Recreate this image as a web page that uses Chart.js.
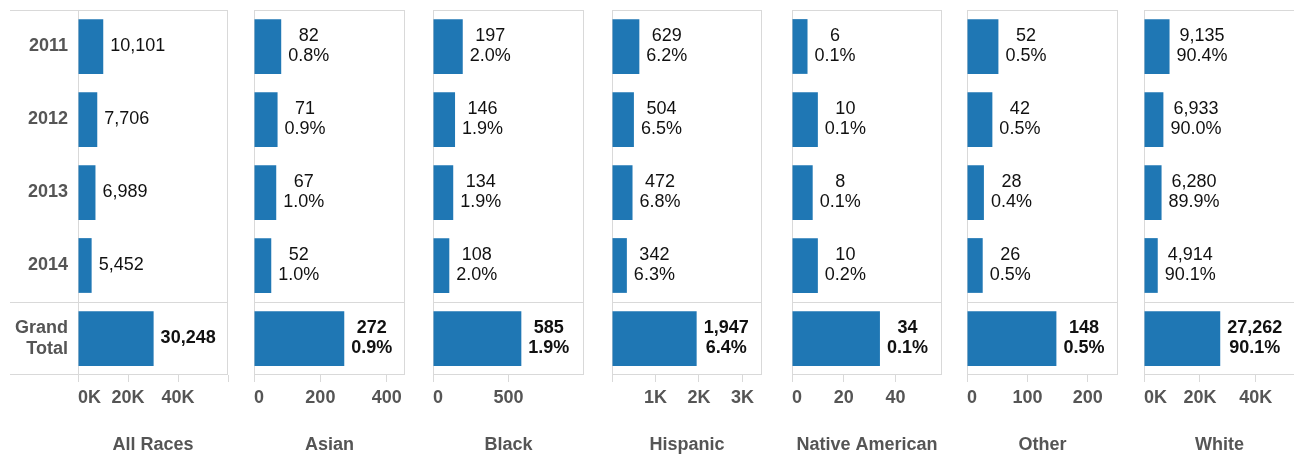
<!DOCTYPE html>
<html>
<head>
<meta charset="utf-8">
<script src="https://cdn.jsdelivr.net/npm/chart.js@4.4.1/dist/chart.umd.min.js"></script>
<style>
  html, body { margin: 0; padding: 0; background: #fff; overflow: hidden; }
  #wrap { position: relative; width: 1294px; height: 456px; }
  #wrap canvas { position: absolute; top: 0; }
</style>
</head>
<body>
<div id="wrap"></div>
<script>
// row categories
const years = ['2011', '2012', '2013', '2014', ['Grand', 'Total']];

// counts per year (last entry = grand total) and share of all races in %
const allRaces = [10101, 7706, 6989, 5452, 30248];
const asian = [82, 71, 67, 52, 272];
const asianPct = [0.8, 0.9, 1.0, 1.0, 0.9];
const black = [197, 146, 134, 108, 585];
const blackPct = [2.0, 1.9, 1.9, 2.0, 1.9];
const hispanic = [629, 504, 472, 342, 1947];
const hispanicPct = [6.2, 6.5, 6.8, 6.3, 6.4];
const nativeAm = [6, 10, 8, 10, 34];
const nativeAmPct = [0.1, 0.1, 0.1, 0.2, 0.1];
const other = [52, 42, 28, 26, 148];
const otherPct = [0.5, 0.5, 0.4, 0.5, 0.5];
const white = [9135, 6933, 6280, 4914, 27262];
const whitePct = [90.4, 90.0, 89.9, 90.1, 90.1];

// axis ticks per panel
const allTicks = [0, 20000, 40000, 60000];
const allTickLabels = ['0K', '20K', '40K', ''];
const asianTicks = [0, 200, 400];
const asianTickLabels = ['0', '200', '400'];
const blackTicks = [0, 500];
const blackTickLabels = ['0', '500'];
const hispanicTicks = [0, 1000, 2000, 3000];
const hispanicTickLabels = ['', '1K', '2K', '3K'];
const nativeTicks = [0, 20, 40];
const nativeTickLabels = ['0', '20', '40'];
const otherTicks = [0, 100, 200];
const otherTickLabels = ['0', '100', '200'];
const whiteTicks = [0, 20000, 40000];
const whiteTickLabels = ['0K', '20K', '40K'];

const panels = [
  { title: 'All Races', values: allRaces, pct: null, max: 60000, ticks: allTicks, tickLabels: allTickLabels },
  { title: 'Asian', values: asian, pct: asianPct, max: 455, ticks: asianTicks, tickLabels: asianTickLabels },
  { title: 'Black', values: black, pct: blackPct, max: 1000, ticks: blackTicks, tickLabels: blackTickLabels },
  { title: 'Hispanic', values: hispanic, pct: hispanicPct, max: 3450, ticks: hispanicTicks, tickLabels: hispanicTickLabels },
  { title: 'Native American', values: nativeAm, pct: nativeAmPct, max: 58, ticks: nativeTicks, tickLabels: nativeTickLabels },
  { title: 'Other', values: other, pct: otherPct, max: 250, ticks: otherTicks, tickLabels: otherTickLabels },
  { title: 'White', values: white, pct: whitePct, max: 54000, ticks: whiteTicks, tickLabels: whiteTickLabels }
];

// plot area left/right edge of each panel, in page pixels
const frames = [[78, 228], [254, 405], [433, 584], [612, 762], [792, 942], [967, 1118], [1144, 1295]];

const FONT = "'Liberation Sans', Arial, sans-serif";
const BLUE = '#1f77b4';
const GRID = '#d9d9d9';
const AXIS = '#555555';

Chart.defaults.font.family = FONT;

// panel border and the horizontal rules (top, above Grand Total, bottom)
const framePlugin = {
  id: 'frame',
  beforeDatasetsDraw(chart, args, opts) {
    const { ctx, chartArea: a, scales: { y } } = chart;
    const sep = Math.round((y.getPixelForValue(3) + y.getPixelForValue(4)) / 2) + 0.5;
    const l = a.left - (opts.lead || 0);
    ctx.save();
    ctx.strokeStyle = GRID;
    ctx.lineWidth = 1;
    ctx.beginPath();
    [a.top + 0.5, sep, a.bottom - 0.5].forEach(yy => {
      ctx.moveTo(l, yy);
      ctx.lineTo(a.right, yy);
    });
    ctx.moveTo(a.left + 0.5, a.top);
    ctx.lineTo(a.left + 0.5, a.bottom);
    ctx.moveTo(a.right - 0.5, a.top);
    ctx.lineTo(a.right - 0.5, a.bottom);
    ctx.stroke();
    ctx.restore();
  }
};

// count (and percent) next to each bar, lines centred on each other
const labelPlugin = {
  id: 'valueLabels',
  afterDatasetsDraw(chart) {
    const { ctx } = chart;
    const ds = chart.data.datasets[0];
    const meta = chart.getDatasetMeta(0);
    ctx.save();
    ctx.fillStyle = '#111';
    ctx.textBaseline = 'middle';
    ctx.textAlign = 'center';
    meta.data.forEach((bar, i) => {
      const total = i === ds.data.length - 1;
      ctx.font = (total ? 'bold ' : '') + '18px ' + FONT;
      const lines = [ds.data[i].toLocaleString('en-US')];
      if (ds.pct) lines.push(ds.pct[i].toFixed(1) + '%');
      const w = Math.max(...lines.map(t => ctx.measureText(t).width));
      const cx = bar.x + 7 + w / 2;
      const y0 = bar.y - (lines.length - 1) * 10;
      lines.forEach((t, k) => ctx.fillText(t, cx, y0 + k * 20));
    });
    ctx.restore();
  }
};

const wrap = document.getElementById('wrap');

panels.forEach((p, i) => {
  const [left, right] = frames[i];
  const first = i === 0;
  const padL = first ? 0 : 4;
  const padR = 4;
  const x0 = first ? 0 : left - padL;
  const w = right - x0 + padR;

  const canvas = document.createElement('canvas');
  canvas.width = w;
  canvas.height = 456;
  canvas.style.left = x0 + 'px';
  canvas.style.width = w + 'px';
  canvas.style.height = '456px';
  wrap.appendChild(canvas);

  const tv = p.ticks.slice();
  const tl = p.tickLabels.slice();
  let dummy = -1;
  if (tv[tv.length - 1] < p.max) {
    tv.push(p.max);
    tl.push('');
    dummy = tv.length - 1;
  }

  new Chart(canvas, {
    type: 'bar',
    data: {
      labels: years,
      datasets: [{
        data: p.values,
        pct: p.pct,
        backgroundColor: BLUE,
        barPercentage: 0.75,
        categoryPercentage: 1
      }]
    },
    options: {
      indexAxis: 'y',
      responsive: false,
      animation: false,
      layout: { padding: { left: padL, right: padR, top: 10, bottom: 0 } },
      plugins: {
        legend: { display: false },
        tooltip: { enabled: false },
        frame: { lead: first ? 68 : 0 }
      },
      scales: {
        x: {
          min: 0,
          max: p.max,
          afterBuildTicks: s => { s.ticks = tv.map(v => ({ value: v })); },
          afterFit: s => { s.height = 81; s.paddingLeft = 0; s.paddingRight = 0; },
          grid: {
            drawOnChartArea: false,
            drawTicks: true,
            tickLength: 7,
            tickColor: c => (c.index === dummy ? 'rgba(0,0,0,0)' : GRID)
          },
          border: { display: false },
          ticks: {
            align: 'inner',
            autoSkip: false,
            maxRotation: 0,
            padding: 5,
            color: AXIS,
            font: { size: 18, weight: 'bold' },
            callback: (v, idx) => tl[idx]
          },
          title: {
            display: true,
            text: p.title,
            color: AXIS,
            font: { size: 18, weight: 'bold' },
            padding: 0
          }
        },
        y: {
          display: first,
          afterFit: s => {
            s.width = first ? 78 : 0;
            s.paddingTop = 0;
            s.paddingBottom = 0;
          },
          grid: { display: false, drawTicks: false },
          border: { display: false },
          ticks: {
            padding: 10,
            color: AXIS,
            font: { size: 18, weight: 'bold' }
          }
        }
      }
    },
    plugins: [framePlugin, labelPlugin]
  });
});
</script>
</body>
</html>
